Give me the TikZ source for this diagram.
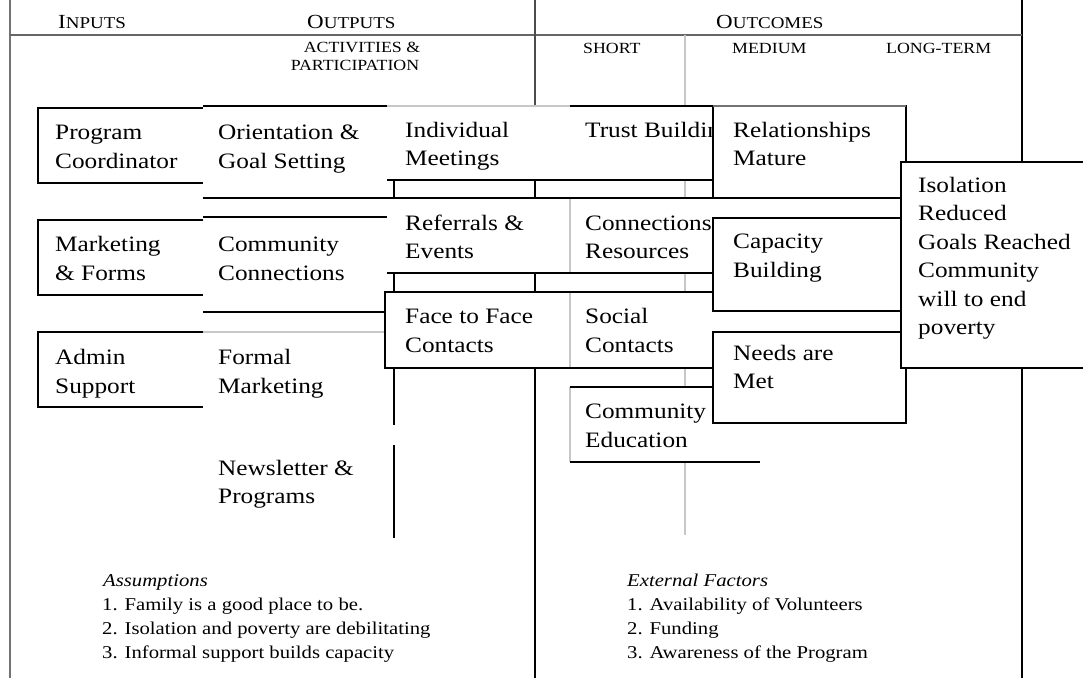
\documentclass[tikz,border=0pt]{standalone}
\usepackage{fontspec}
\setmainfont[FakeStretch=1.15]{Liberation Serif}
\newcommand{\bodyfont}{\fontsize{22}{28.5}\selectfont}
\newcommand{\notefont}{\fontsize{18}{23}\selectfont}
\newcommand{\subfont}{\fontsize{15.5}{15.5}\selectfont}
\newcommand{\hdsc}[2]{{\fontsize{20}{20}\selectfont #1}{\fontsize{16.5}{16.5}\selectfont #2}}
\begin{document}
\begin{tikzpicture}[x=1pt,y=-1pt,
    rule/.style={line width=1.8pt,black},
    grid/.style={line width=1.2pt,black!22},
    body/.style={anchor=base west,inner sep=0pt,font=\bodyfont},
    note/.style={anchor=base west,inner sep=0pt,font=\notefont},
    head/.style={anchor=base west,inner sep=0pt},
    sub/.style={anchor=base,inner sep=0pt,font=\subfont}]
  \useasboundingbox (0,0) rectangle (1083,678);
  \clip (0,0) rectangle (1083,678);
  % frame
  \draw[line width=2.4pt,black!55] (10,0) -- (10,678);
  \draw[line width=2.5pt] (1022,0) -- (1022,678);
  \draw[line width=1.6pt,black!60] (10,35) -- (1022,35);
  \draw[line width=1.5pt,black!70] (535,0) -- (535,106);
  % light grid
  \draw[grid] (685,35) -- (685,106);
  \draw[grid] (685,180) -- (685,198);
  \draw[grid] (685,273) -- (685,292);
  \draw[grid] (685,368) -- (685,387);
  \draw[grid] (685,462) -- (685,535);
  \draw[grid] (570,198) -- (570,273);
  \draw[grid] (570,292) -- (570,368);
  \draw[grid] (570,387) -- (570,462);
  \draw[grid] (387,106) -- (570,106);
  \draw[grid] (203,332) -- (385,332);
  % inputs
  \draw[rule] (203,108) -- (38,108) -- (38,183) -- (203,183);
  \draw[rule] (203,220) -- (38,220) -- (38,295) -- (203,295);
  \draw[rule] (203,332) -- (38,332) -- (38,407) -- (203,407);
  % outputs
  \draw[rule] (203,106) -- (387,106);
  \draw[rule] (570,106) -- (713,106) -- (713,198);
  \draw[rule] (387,180) -- (713,180);
  \draw[rule] (394,180) -- (394,198);
  \draw[rule] (535,180) -- (535,198);
  \draw[rule] (203,198) -- (901,198);
  \draw[rule] (203,217) -- (387,217);
  \draw[rule] (387,273) -- (713,273);
  \draw[rule] (394,273) -- (394,292);
  \draw[rule] (535,273) -- (535,292);
  \draw[rule] (713,292) -- (385,292) -- (385,368) -- (713,368);
  \draw[rule] (203,312) -- (385,312);
  \draw[rule] (394,368) -- (394,425);
  \draw[rule] (394,445) -- (394,538);
  \draw[rule] (535,368) -- (535,678);
  \draw[rule] (713,387) -- (570,387);
  \draw[rule] (570,462) -- (760,462);
  % headings
  \node[head] (inputs) at (58,28) {\hdsc{I}{NPUTS}};
  \node[head] (outputs) at (307,28) {\hdsc{O}{UTPUTS}};
  \node[head] (outcomes) at (716,28) {\hdsc{O}{UTCOMES}};
  \node[sub] (activ) at (362,52) {ACTIVITIES \&};
  \node[sub] (partic) at (355,70) {PARTICIPATION};
  \node[sub,anchor=base west] (short) at (583,53) {SHORT};
  \node[sub,anchor=base west] (medium) at (732,53) {MEDIUM};
  \node[sub,anchor=base west] (longterm) at (886,53) {LONG-TERM};
  % cells
  \node[body] (prog1) at (55,139) {Program};
  \node[body] (prog2) at (55,168) {Coordinator};
  \node[body] (orient1) at (218,139) {Orientation \&};
  \node[body] (orient2) at (218,168) {Goal Setting};
  \node[body] (indiv1) at (405,137) {Individual};
  \node[body] (indiv2) at (405,165) {Meetings};
  \node[body] (trust) at (585,137) {Trust Building};
  \node[body] (market1) at (55,251) {Marketing};
  \node[body] (market2) at (55,280) {\& Forms};
  \node[body] (commconn1) at (218,251) {Community};
  \node[body] (commconn2) at (218,280) {Connections};
  \node[body] (refer1) at (405,230) {Referrals \&};
  \node[body] (refer2) at (405,258) {Events};
  \node[body] (connres1) at (585,230) {Connections};
  \node[body] (connres2) at (585,258) {Resources};
  \node[body] (admin1) at (55,364) {Admin};
  \node[body] (admin2) at (55,393) {Support};
  \node[body] (formal1) at (218,364) {Formal};
  \node[body] (formal2) at (218,393) {Marketing};
  \node[body] (face1) at (405,323) {Face to Face};
  \node[body] (face2) at (405,352) {Contacts};
  \node[body] (social1) at (585,323) {Social};
  \node[body] (social2) at (585,352) {Contacts};
  \node[body] (commed1) at (585,418) {Community};
  \node[body] (commed2) at (585,447) {Education};
  \node[body] (news1) at (218,475) {Newsletter \&};
  \node[body] (news2) at (218,503) {Programs};
  % outcome boxes
  \filldraw[rule,fill=white] (713,106) rectangle (906,198);
  \draw[line width=1.8pt,black!55] (713,106) -- (906,106);
  \filldraw[rule,fill=white] (713,218) rectangle (906,311);
  \filldraw[rule,fill=white] (713,332) rectangle (906,423);
  \node[body] (relat1) at (733,137) {Relationships};
  \node[body] (relat2) at (733,165) {Mature};
  \node[body] (capac1) at (733,248) {Capacity};
  \node[body] (capac2) at (733,277) {Building};
  \node[body] (needs1) at (733,360) {Needs are};
  \node[body] (needs2) at (733,388) {Met};
  \filldraw[rule,fill=white] (901,162) rectangle (1100,368);
  \foreach \ln [count=\k] in {Isolation,Reduced,Goals Reached,Community,will to end,poverty}
    \node[body] (isol\k) at (918,{163.5+28.5*\k}) {\ln};
  % notes
  \node[note] (assum) at (103,586) {\textit{Assumptions}};
  \node[note] (assum1) at (102,610) {1. Family is a good place to be.};
  \node[note] (assum2) at (102,634) {2. Isolation and poverty are debilitating};
  \node[note] (assum3) at (102,658) {3. Informal support builds capacity};
  \node[note] (extern) at (627,586) {\textit{External Factors}};
  \node[note] (extern1) at (627,610) {1. Availability of Volunteers};
  \node[note] (extern2) at (627,634) {2. Funding};
  \node[note] (extern3) at (627,658) {3. Awareness of the Program};
\end{tikzpicture}
\end{document}
